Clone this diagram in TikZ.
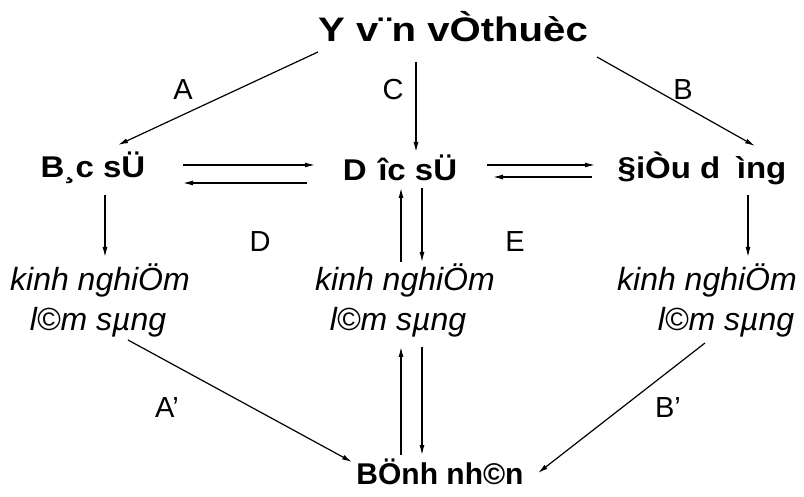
\documentclass[tikz,border=0pt]{standalone}
\usepackage{fontspec}
\setmainfont{Liberation Sans}
\usetikzlibrary{arrows.meta,positioning}
\tikzset{
  src label/.style={font=\fontsize{34}{40}\selectfont\bfseries, inner sep=0pt},
  role label/.style={font=\fontsize{30}{36}\selectfont\bfseries, inner sep=0pt},
  exp label/.style={font=\fontsize{32}{42}\selectfont\itshape, inner sep=0pt},
  edge label/.style={font=\fontsize{29}{36}\selectfont, inner sep=0pt},
  flow arrow/.style={-{Latex[length=10pt,width=5pt]}, line width=1.2pt},
}

\begin{document}
\begin{tikzpicture}[x=1pt,y=-1pt]
  \useasboundingbox (0,0) rectangle (804,497);
  \node[src label] (src) at (453,27) {\scalebox{1.18}[1]{Y v¨n vÒthuèc}};

  \node[role label] (bacsi) at (93,168) {\scalebox{1.1}[1]{B¸c sÜ}};
  \node[role label] (duocsi) at (400,168) {\scalebox{1.1}[1]{D\hspace*{.35em}îc sÜ}};
  \node[role label] (dieuduong) at (702,168) {\scalebox{1.1}[1]{§iÒu d\hspace*{.5em}ìng}};

  \node[exp label] (kn1a) at (100,280) {kinh nghiÖm};
  \node[exp label] (kn1b) at (98,322) {l©m sµng};
  \node[exp label] (kn2a) at (405,280) {kinh nghiÖm};
  \node[exp label] (kn2b) at (398,322) {l©m sµng};
  \node[exp label] (kn3a) at (707,280) {kinh nghiÖm};
  \node[exp label] (kn3b) at (726,322) {l©m sµng};

  \node[role label] (benhnhan) at (440,472) {BÖnh nh©n};

  \node[edge label] (lA) at (183,90) {A};
  \node[edge label] (lC) at (393,90) {C};
  \node[edge label] (lB) at (683,90) {B};
  \node[edge label] (lD) at (260,242) {D};
  \node[edge label] (lE) at (515,242) {E};
  \node[edge label] (lA2) at (167,408) {A’};
  \node[edge label] (lB2) at (668,408) {B’};

  % from the literature
  \draw[flow arrow] ([shift={(-135,25)}]src.center) -- ([shift={(25,-23)}]bacsi.center);
  \draw[flow arrow] ([shift={(-37,35)}]src.center) -- ([shift={(16,-16)}]duocsi.center);
  \draw[flow arrow] ([shift={(144,30)}]src.center) -- ([shift={(53,-22)}]dieuduong.center);

  % between the three roles
  \draw[flow arrow] ([shift={(90,-3)}]bacsi.center) -- ([shift={(-85,-3)}]duocsi.center);
  \draw[flow arrow] ([shift={(-93,15)}]duocsi.center) -- ([shift={(90,15)}]bacsi.center);
  \draw[flow arrow] ([shift={(87,-3)}]duocsi.center) -- ([shift={(-107,-3)}]dieuduong.center);
  \draw[flow arrow] ([shift={(-110,9)}]dieuduong.center) -- ([shift={(93,9)}]duocsi.center);

  % down to clinical experience
  \draw[flow arrow] ([shift={(12,27)}]bacsi.center) -- ([shift={(5,-23)}]kn1a.center);
  \draw[flow arrow] ([shift={(-4,-18)}]kn2a.center) -- ([shift={(1,20)}]duocsi.center);
  \draw[flow arrow] ([shift={(22,20)}]duocsi.center) -- ([shift={(17,-18)}]kn2a.center);
  \draw[flow arrow] ([shift={(46,27)}]dieuduong.center) -- ([shift={(41,-23)}]kn3a.center);

  % to the patient
  \draw[flow arrow] ([shift={(30,18)}]kn1b.center) -- ([shift={(-88,-10)}]benhnhan.center);
  \draw[flow arrow] ([shift={(-39,-17)}]benhnhan.center) -- ([shift={(3,25)}]kn2b.center);
  \draw[flow arrow] ([shift={(24,25)}]kn2b.center) -- ([shift={(-18,-17)}]benhnhan.center);
  \draw[flow arrow] ([shift={(-21,21)}]kn3b.center) -- ([shift={(98,1)}]benhnhan.center);
\end{tikzpicture}
\end{document}
